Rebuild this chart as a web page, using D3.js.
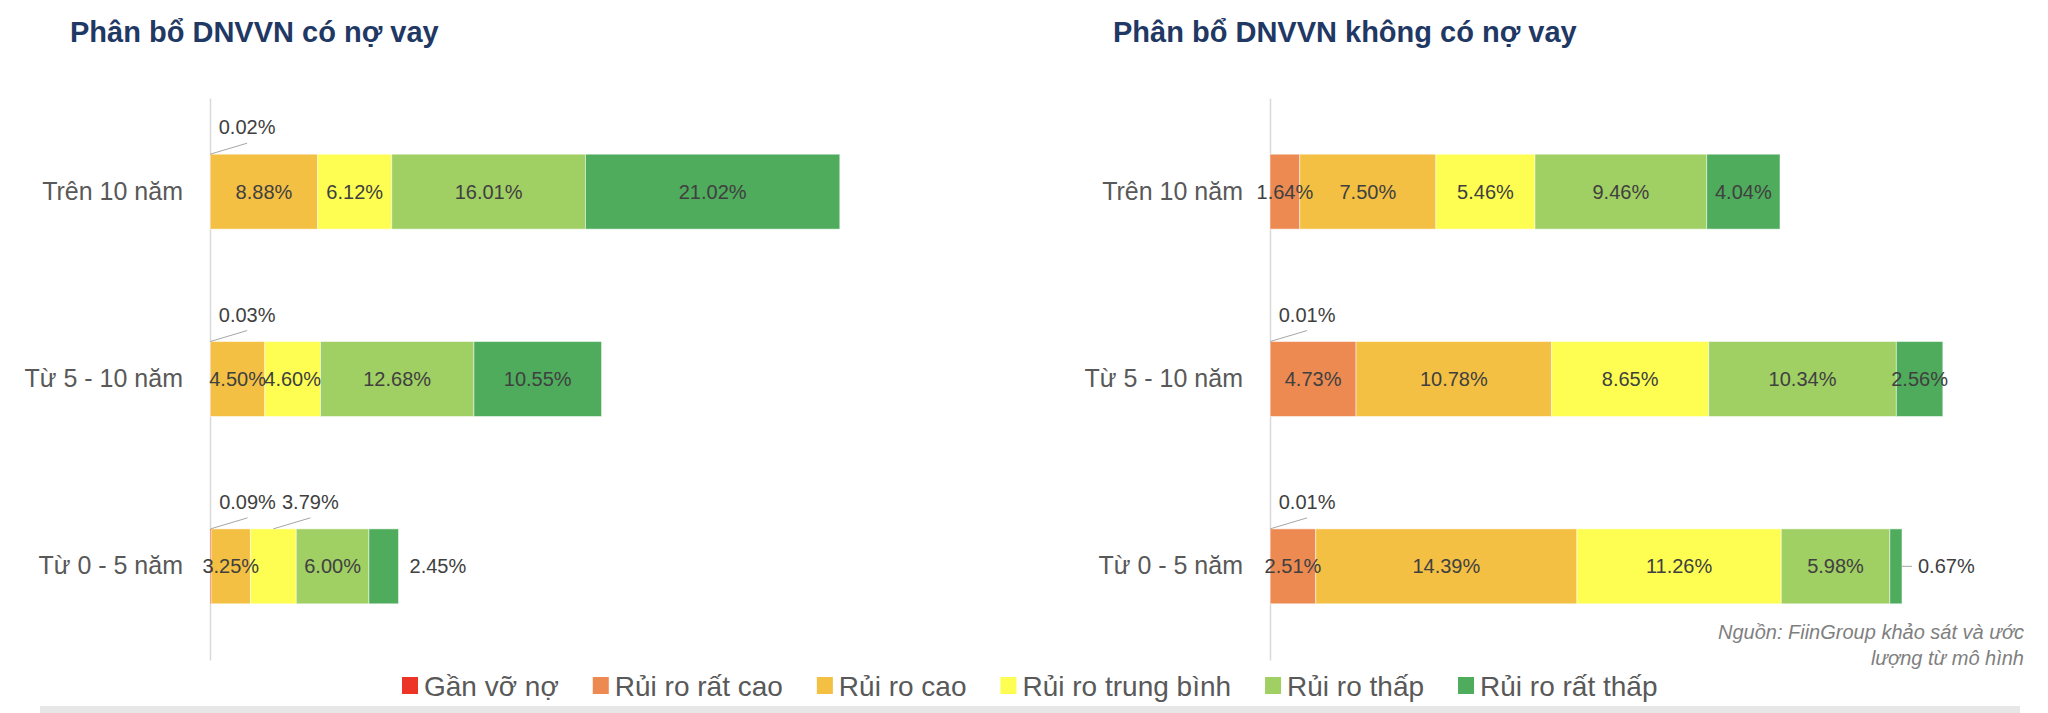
<!DOCTYPE html>
<html>
<head>
<meta charset="utf-8">
<script src="https://cdn.jsdelivr.net/npm/d3@7"></script>
<style>body{margin:0;background:#fff;}</style>
</head>
<body>
<script>
// nhóm tuổi doanh nghiệp
const categories = ['Trên 10 năm', 'Từ 5 - 10 năm', 'Từ 0 - 5 năm'];
// nhóm rủi ro
const seriesNames = ['Gần vỡ nợ', 'Rủi ro rất cao', 'Rủi ro cao', 'Rủi ro trung bình', 'Rủi ro thấp', 'Rủi ro rất thấp'];
const seriesColors = ['#ec3526', '#ec8a52', '#f4c043', '#fefe52', '#a0cf64', '#4eac5c'];

// DNVVN có nợ vay (%)
const ganVoNoCoNo = [0.02, 0.03, 0.09];
const ratCaoCoNo = [0, 0, 0];
const caoCoNo = [8.88, 4.50, 3.25];
const trungBinhCoNo = [6.12, 4.60, 3.79];
const thapCoNo = [16.01, 12.68, 6.00];
const ratThapCoNo = [21.02, 10.55, 2.45];

// DNVVN không có nợ vay (%)
const ganVoNoKhong = [0, 0.01, 0.01];
const ratCaoKhong = [1.64, 4.73, 2.51];
const caoKhong = [7.50, 10.78, 14.39];
const trungBinhKhong = [5.46, 8.65, 11.26];
const thapKhong = [9.46, 10.34, 5.98];
const ratThapKhong = [4.04, 2.56, 0.67];

const font = '"Liberation Sans", Arial, sans-serif';
const fmt = d => d3.format('.2f')(d) + '%';

function toRows(cols) {
    return categories.map((c, i) => {
        let r = {cat: c};
        seriesNames.forEach((s, j) => { r[s] = cols[j][i]; });
        return r;
    });
}

let svg = d3.select('body')
    .append('svg')
    .attr('width', 2048)
    .attr('height', 713)
    .style('font-family', font);

function drawChart(opt) {
    let g = svg.append('g');
    let x = d3.scaleLinear().domain([0, opt.xMax]).range([opt.left, opt.right]);
    let y = d3.scaleBand().domain(categories).range([98, 660]).paddingInner(0.6).paddingOuter(0.3);
    let stacked = d3.stack().keys(seriesNames)(opt.rows);

    g.append('text')
        .attr('x', opt.titleX)
        .attr('y', 42)
        .attr('font-size', 29)
        .attr('font-weight', 'bold')
        .attr('fill', '#1f3864')
        .text(opt.title);

    //trục
    let axis = g.append('g')
        .attr('transform', 'translate(' + opt.left + ',0)')
        .call(d3.axisLeft(y).tickSize(0).tickSizeOuter(0).tickPadding(27));
    axis.attr('font-family', font);
    axis.select('.domain').attr('stroke', '#d9d9d9').attr('stroke-width', 1.5);
    axis.selectAll('text').attr('font-size', 25).attr('fill', '#595959');

    //các đoạn
    let segs = [];
    stacked.forEach((layer, li) => {
        layer.forEach(p => {
            let v = p.data[layer.key];
            if (v > 0) segs.push({key: layer.key, li: li, cat: p.data.cat, v: v, x0: x(p[0]), x1: x(p[1])});
        });
    });

    g.selectAll('rect.seg')
        .data(segs)
        .enter()
        .append('rect')
        .attr('class', 'seg')
        .attr('x', d => d.x0)
        .attr('y', d => y(d.cat))
        .attr('width', d => Math.max(d.x1 - d.x0, 0.6))
        .attr('height', y.bandwidth())
        .attr('fill', d => seriesColors[d.li])
        .attr('stroke', '#ffffff')
        .attr('stroke-opacity', 0.5)
        .attr('stroke-width', 1);

    //vị trí nhãn
    segs.forEach(d => {
        let last = segs.filter(s => s.cat === d.cat).slice(-1)[0];
        let w = d.x1 - d.x0;
        if (d.v < 0.5 || opt.callouts.indexOf(d.cat + '|' + d.key) >= 0) d.place = 'above';
        else if (d === last && w < 35) d.place = 'right';
        else d.place = 'center';
    });

    let top = d => y(d.cat);
    let mid = d => y(d.cat) + y.bandwidth() / 2;
    let cx = d => (d.x0 + d.x1) / 2;

    let above = segs.filter(d => d.place === 'above');
    g.selectAll('line.callout')
        .data(above)
        .enter()
        .append('line')
        .attr('x1', cx)
        .attr('y1', top)
        .attr('x2', d => cx(d) + 37)
        .attr('y2', d => top(d) - 11)
        .attr('stroke', '#a6a6a6')
        .attr('stroke-width', 1);

    let right = segs.filter(d => d.place === 'right');
    g.selectAll('line.outside')
        .data(right.filter(d => d.x1 - d.x0 < 20))
        .enter()
        .append('line')
        .attr('x1', d => d.x1)
        .attr('y1', mid)
        .attr('x2', d => d.x1 + 10)
        .attr('y2', mid)
        .attr('stroke', '#a6a6a6')
        .attr('stroke-width', 1);

    g.selectAll('text.lbl')
        .data(segs)
        .enter()
        .append('text')
        .attr('class', 'lbl')
        .attr('font-size', 20)
        .attr('fill', '#404040')
        .attr('text-anchor', d => d.place === 'right' ? 'start' : 'middle')
        .attr('x', d => {
            if (d.place === 'above') return cx(d) + 37;
            if (d.place === 'right') return d.x1 + (d.x1 - d.x0 < 20 ? 16 : 11);
            return cx(d);
        })
        .attr('y', d => d.place === 'above' ? top(d) - 20 : mid(d))
        .attr('dy', d => d.place === 'above' ? 0 : '0.35em')
        .text(d => fmt(d.v));
}

drawChart({
    title: 'Phân bổ DNVVN có nợ vay',
    titleX: 70,
    left: 210,
    right: 936,
    xMax: 60,
    rows: toRows([ganVoNoCoNo, ratCaoCoNo, caoCoNo, trungBinhCoNo, thapCoNo, ratThapCoNo]),
    callouts: ['Từ 0 - 5 năm|Rủi ro trung bình']
});

drawChart({
    title: 'Phân bổ DNVVN không có nợ vay',
    titleX: 1113,
    left: 1270,
    right: 1996,
    xMax: 40,
    rows: toRows([ganVoNoKhong, ratCaoKhong, caoKhong, trungBinhKhong, thapKhong, ratThapKhong]),
    callouts: []
});

//chú thích
let legend = svg.append('g');
let lx = 402;
seriesNames.forEach((s, i) => {
    let item = legend.append('g').attr('transform', 'translate(' + lx + ',0)');
    item.append('rect')
        .attr('x', 0)
        .attr('y', 677)
        .attr('width', 16)
        .attr('height', 17)
        .attr('fill', seriesColors[i]);
    let t = item.append('text')
        .attr('x', 22)
        .attr('y', 686)
        .attr('dy', '0.35em')
        .attr('font-size', 28)
        .attr('fill', '#595959')
        .text(s);
    lx += 22 + t.node().getComputedTextLength() + 34;
});

//nguồn
svg.append('text')
    .attr('text-anchor', 'end')
    .attr('font-size', 20)
    .attr('font-style', 'italic')
    .attr('fill', '#7f7f7f')
    .selectAll('tspan')
    .data(['Nguồn: FiinGroup khảo sát và ước', 'lượng từ mô hình'])
    .enter()
    .append('tspan')
    .attr('x', 2024)
    .attr('y', (d, i) => 639 + i * 26)
    .text(d => d);

svg.append('rect')
    .attr('x', 40)
    .attr('y', 706)
    .attr('width', 1980)
    .attr('height', 7)
    .attr('fill', '#e7e7e7');
</script>
</body>
</html>
